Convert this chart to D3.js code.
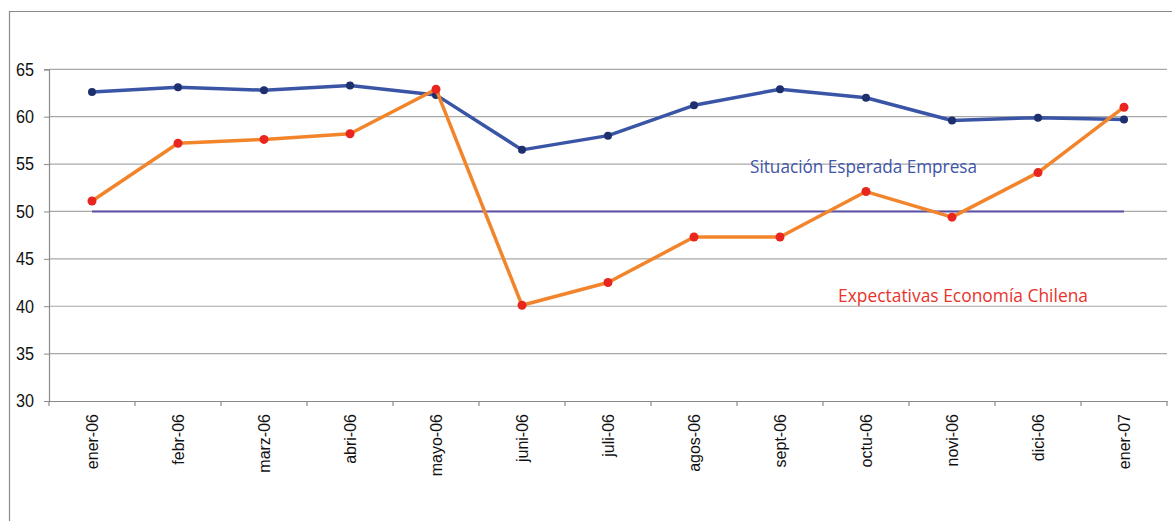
<!DOCTYPE html>
<html><head><meta charset="utf-8">
<script src="https://cdn.jsdelivr.net/npm/d3@7"></script>
<style>body{margin:0;background:#fff}svg{display:block}</style>
</head><body>
<script>
const categories = ["ener-06","febr-06","marz-06","abri-06","mayo-06","juni-06","juli-06","agos-06","sept-06","octu-06","novi-06","dici-06","ener-07"];
const situacionEmpresa = [62.6,63.1,62.8,63.3,62.3,56.5,58.0,61.2,62.9,62.0,59.6,59.9,59.7];
const expectativasEconomia = [51.1,57.2,57.6,58.2,62.9,40.1,42.5,47.3,47.3,52.1,49.4,54.1,61.0];
const referencia = [50,50,50,50,50,50,50,50,50,50,50,50,50];
const yTicks = [30,35,40,45,50,55,60,65];
const seriesLabels = ["Situación Esperada Empresa","Expectativas Economía Chilena"];

const W = 1172, H = 521;
const svg = d3.select("body").append("svg").attr("width", W).attr("height", H);

// outer frame
svg.append("path").attr("d", `M9.5,${H} V11.5 H${W}`).attr("fill","none").attr("stroke","#8a8a8a").attr("stroke-width",1.2);

const x = d3.scaleBand().domain(categories).range([49, 1167]);
const y = d3.scaleLinear().domain([30, 65]).range([401, 69.3]);

// gridlines
svg.append("g").selectAll("line").data(yTicks.filter(t => t !== 30)).join("line")
  .attr("x1", 49).attr("x2", 1167).attr("y1", d => y(d)).attr("y2", d => y(d))
  .attr("stroke", "#a8a8a8").attr("stroke-width", 1.2);

// y axis
const yAxis = svg.append("g").attr("transform", "translate(49,0)")
  .call(d3.axisLeft(y).tickValues(yTicks).tickSize(5).tickPadding(10));
yAxis.select(".domain").attr("stroke", "#8a8a8a").attr("stroke-width", 1.2);
yAxis.selectAll(".tick line").attr("stroke", "#8a8a8a");
yAxis.selectAll("text").attr("font-family", "'Liberation Sans', Arial, sans-serif").attr("font-size", 18.5).attr("fill", "#111")
  .attr("textLength", 18).attr("lengthAdjust", "spacingAndGlyphs");

// x axis
const xAxis = svg.append("g").attr("transform", "translate(0,401)")
  .call(d3.axisBottom(x).tickSize(0).tickPadding(0));
xAxis.select(".domain").attr("stroke", "#8a8a8a").attr("stroke-width", 1.2);
xAxis.selectAll(".tick text")
  .attr("font-family", "'Liberation Sans', Arial, sans-serif").attr("font-size", 16).attr("fill", "#111")
  .attr("text-anchor", "end").attr("transform", "rotate(-90)")
  .attr("x", -13).attr("y", 0).attr("dy", "0.35em");
// band boundary ticks
const bounds = categories.map(c => x(c)).concat([x(categories[categories.length-1]) + x.bandwidth()]);
svg.append("g").selectAll("line").data(bounds).join("line")
  .attr("x1", d => d).attr("x2", d => d).attr("y1", 401).attr("y2", 406)
  .attr("stroke", "#8a8a8a").attr("stroke-width", 1.2);

const cx = c => x(c) + x.bandwidth() / 2;
const line = d3.line().x((d, i) => cx(categories[i])).y(d => y(d));

// reference 50 line
svg.append("path").datum(referencia).attr("d", line).attr("fill", "none")
  .attr("stroke", "#5b4fa8").attr("stroke-width", 2);

// blue series
svg.append("path").datum(situacionEmpresa).attr("d", line).attr("fill", "none")
  .attr("stroke", "#3a55a5").attr("stroke-width", 3.5).attr("stroke-linejoin", "round");
svg.append("g").selectAll("circle").data(situacionEmpresa).join("circle")
  .attr("cx", (d, i) => cx(categories[i])).attr("cy", d => y(d)).attr("r", 4)
  .attr("fill", "#1e2f6e");

// orange series
svg.append("path").datum(expectativasEconomia).attr("d", line).attr("fill", "none")
  .attr("stroke", "#f2852b").attr("stroke-width", 3.5).attr("stroke-linejoin", "round");
svg.append("g").selectAll("circle").data(expectativasEconomia).join("circle")
  .attr("cx", (d, i) => cx(categories[i])).attr("cy", d => y(d)).attr("r", 4.5)
  .attr("fill", "#e8261f");

// labels
svg.append("text").attr("x", 750).attr("y", 173).text(seriesLabels[0])
  .attr("font-family", "'Open Sans', sans-serif").attr("font-size", 18.5).attr("fill", "#3f55a6")
  .attr("textLength", 227).attr("lengthAdjust", "spacingAndGlyphs");
svg.append("text").attr("x", 838).attr("y", 302).text(seriesLabels[1])
  .attr("font-family", "'Open Sans', sans-serif").attr("font-size", 18.5).attr("fill", "#e8332b")
  .attr("textLength", 250).attr("lengthAdjust", "spacingAndGlyphs");
</script>
</body></html>
